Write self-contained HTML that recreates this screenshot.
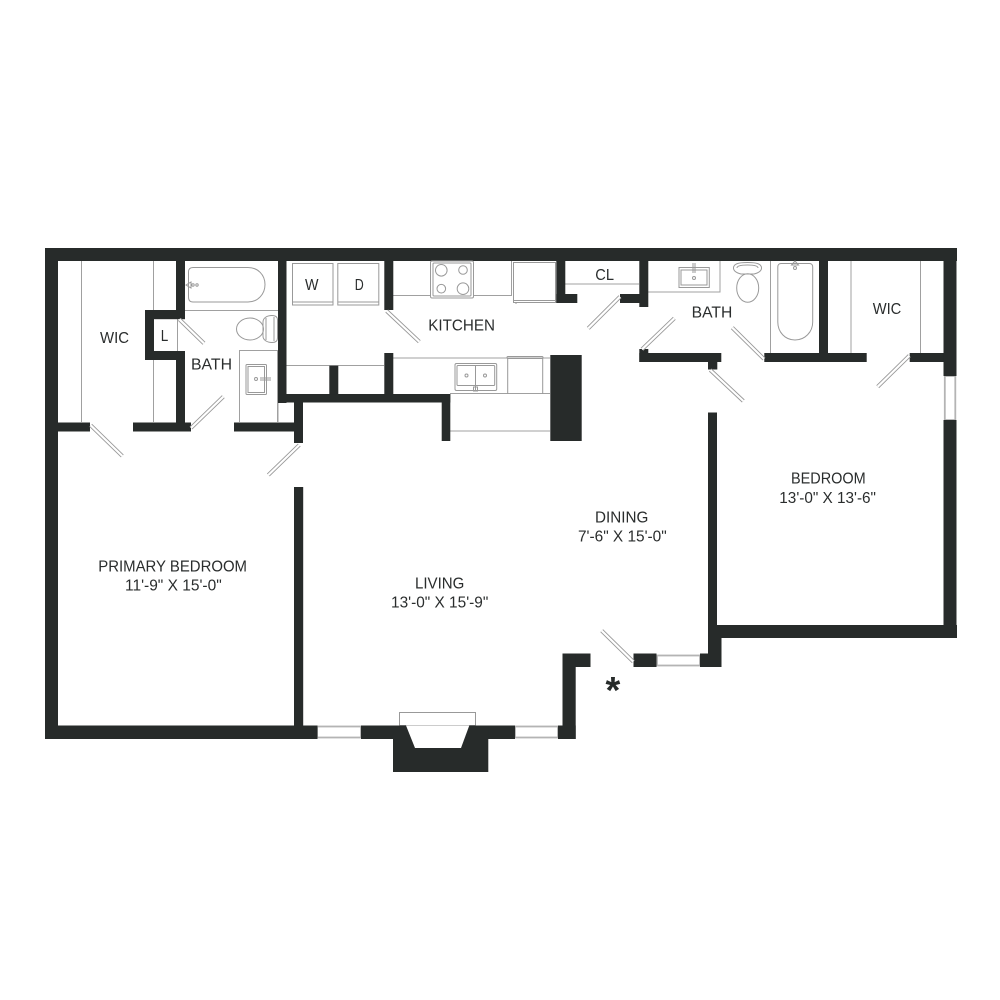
<!DOCTYPE html>
<html><head><meta charset="utf-8"><title>Floor plan</title>
<style>
html,body{margin:0;padding:0;background:#fff;width:1000px;height:1000px;overflow:hidden}
svg{display:block}
text{font-family:"Liberation Sans",sans-serif;font-size:15.4px;fill:#2a2d2d}
.w{fill:#272b2a}
.l{fill:none;stroke:#a0a0a0;stroke-width:1}
.f{fill:none;stroke:#999;stroke-width:1}
.d{stroke:#999;stroke-width:4;stroke-linecap:butt}
.di{stroke:#fff;stroke-width:2.2;stroke-linecap:butt}
.win{stroke:#b4b4b4;stroke-width:1.8;fill:#fff}
</style></head><body>
<svg width="1000" height="1000" viewBox="0 0 1000 1000" xmlns="http://www.w3.org/2000/svg">
<rect width="1000" height="1000" fill="#fff"/>

<!-- thin lines -->
<g class="l">
<path d="M81.5 261V422M153.5 261V310M153.5 360V422M177.5 319V351"/>
<path d="M185 310.5H278M239.5 422V350.5H278M277.5 350V422M278 402.5V422"/>
<path d="M286 365.5H384M393 358H550M450 393.5H550M450 431H550"/>
<path d="M393 295.5H511.5V261M565 284H639M648 292H720V261M770.5 261V353M851 261V353M920.5 261V353"/>
</g>

<!-- windows -->
<g class="win">
<rect x="317" y="726.5" width="44" height="11"/>
<rect x="515" y="726.5" width="43" height="11"/>
<rect x="657" y="655.5" width="43" height="10"/>
<rect x="944.8" y="376" width="10.5" height="44"/>
</g>
<rect x="399.5" y="712.5" width="76" height="13" fill="#fff" stroke="#999" stroke-width="1"/>

<!-- walls -->
<g class="w">
<rect x="45" y="248" width="912" height="13"/>
<rect x="45" y="248" width="13" height="491"/>
<rect x="943.5" y="248" width="13" height="128"/>
<rect x="943.5" y="420" width="13" height="218"/>
<rect x="717" y="625" width="240" height="13"/>
<rect x="708" y="412.5" width="9" height="226"/>
<rect x="708" y="638" width="13.5" height="29"/>
<rect x="700" y="653.5" width="21.5" height="13.5"/>
<rect x="633.5" y="653.5" width="23" height="13.5"/>
<rect x="562.5" y="653.5" width="28" height="13.5"/>
<rect x="562.5" y="653.5" width="13.2" height="85.5"/>
<rect x="558" y="725.5" width="17.7" height="13.5"/>
<rect x="361" y="725.5" width="154" height="13.5"/>
<rect x="45" y="725.5" width="272.5" height="13.5"/>
<rect x="294" y="487" width="9.2" height="240"/>
<rect x="393" y="725.5" width="95.3" height="46.5"/>
<polygon points="406,725.5 469.3,725.5 461,748 415,748" fill="#fff"/>

<rect x="58" y="422.5" width="32" height="9"/>
<rect x="133" y="422.5" width="58" height="9"/>
<rect x="234" y="422.5" width="60" height="9"/>
<rect x="176" y="261" width="9" height="58"/>
<rect x="145" y="310" width="40" height="9.2"/>
<rect x="145" y="310" width="9" height="50"/>
<rect x="145" y="351" width="40" height="9"/>
<rect x="176" y="351" width="9" height="80"/>
<rect x="278" y="261" width="8.5" height="142"/>
<rect x="278" y="394" width="172.3" height="8.5"/>
<rect x="294" y="394" width="9" height="49"/>
<rect x="384.3" y="261" width="9" height="49"/>
<rect x="384.3" y="353" width="9" height="42"/>
<rect x="329.3" y="365.7" width="9" height="29"/>
<rect x="441.7" y="394" width="8.6" height="47"/>
<rect x="550.3" y="355" width="31.4" height="86"/>
<rect x="556.3" y="261" width="9" height="42"/>
<rect x="556.3" y="294" width="21" height="9"/>
<rect x="639.3" y="261" width="9" height="46"/>
<rect x="620" y="294" width="28" height="9"/>
<rect x="639.3" y="349" width="9" height="13"/>
<rect x="639.3" y="353" width="82" height="9"/>
<rect x="708" y="362" width="9.3" height="7.5"/>
<rect x="764.3" y="353" width="102.4" height="9"/>
<rect x="819" y="261" width="9" height="93"/>
<rect x="909.7" y="353" width="34" height="9"/>
</g>

<!-- doors -->
<g>
<path class="d" d="M90.7 425.3L122.3 456M179.3 319.3L204 343.3M191 428L223.3 396.7M299.3 445L268.3 475M386.7 311L419.3 341.7M620 296.7L588.3 328.3M642 349.3L674.3 318.3M710.3 370L743.3 401M764 359L732.3 327.7M909.3 355.7L877.7 386.7M633.3 661.7L601.7 630.7"/>
<path class="di" d="M90.7 425.3L122.3 456M179.3 319.3L204 343.3M191 428L223.3 396.7M299.3 445L268.3 475M386.7 311L419.3 341.7M620 296.7L588.3 328.3M642 349.3L674.3 318.3M710.3 370L743.3 401M764 359L732.3 327.7M909.3 355.7L877.7 386.7M633.3 661.7L601.7 630.7"/>
</g>

<!-- fixtures: left bath -->
<g class="f">
<path d="M193 267.5H248C258 267.5 265 275 265 284.5C265 294 258 302 248 302H193C190 302 188.5 300 188.5 297V272C188.5 269 190 267.5 193 267.5Z"/>
<path d="M186 285L191 282V288Z"/><circle cx="193" cy="285" r="1.2"/><circle cx="197" cy="285" r="1.2"/>
<ellipse cx="250" cy="329" rx="13.5" ry="11"/>
<path d="M263 322C263 318 267 315.5 272 315.5C276 315.5 277.5 317 277.5 320V338C277.5 341 276 342.5 272 342.5C267 342.5 263 340 263 336Z"/>
<path d="M266 318V340M274 317V341"/>
<rect x="246" y="364.5" width="20.5" height="30" rx="1"/>
<rect x="248" y="366.5" width="16.5" height="26"/>
<circle cx="256" cy="379" r="1.5"/><path d="M260 378H271M260 380H271"/>
</g>

<!-- fixtures: laundry -->
<g class="f">
<rect x="292.5" y="263.5" width="40.5" height="41.5"/><path d="M292.5 302H333"/>
<rect x="337.8" y="263.5" width="41" height="41.5"/><path d="M337.8 302H378.8"/>
</g>

<!-- fixtures: kitchen -->
<g class="f">
<rect x="430.5" y="261" width="43" height="37" rx="1.5" fill="#fff"/>
<rect x="433" y="263" width="38" height="33" rx="1"/>
<circle cx="441.3" cy="270.3" r="5.8"/><circle cx="463" cy="270" r="4.3"/>
<circle cx="441.3" cy="288.7" r="4.3"/><circle cx="463" cy="288.7" r="5.8"/>
<rect x="513.5" y="262.5" width="42" height="40"/><path d="M513.5 300.5H555.5M516 302.5V304"/>
<rect x="455" y="363.5" width="41.7" height="27" rx="1.5"/>
<rect x="457" y="365.5" width="37.7" height="20" rx="1"/>
<path d="M475.5 365.5V385.5M475.5 380V390M473.5 387H477.5V391H473.5Z"/>
<circle cx="466.5" cy="375.5" r="1.5"/><circle cx="485" cy="375.5" r="1.5"/>
<path d="M507.7 358V394M542.7 358V394"/><rect x="507" y="356.5" width="36" height="2" rx="1"/>
</g>

<!-- fixtures: right bath -->
<g class="f">
<rect x="679" y="267.5" width="30.3" height="20"/>
<rect x="681" y="270" width="26" height="15"/>
<path d="M693 263V273M695 263V273"/><circle cx="694" cy="278" r="1.5"/>
<ellipse cx="747.7" cy="288" rx="11" ry="14.3"/>
<path d="M733.5 268C733.5 264 738 262.5 747.5 262.5C757 262.5 761.5 264 761.5 268C761.5 271 758 273 754 274H741C737 273 733.5 271 733.5 268Z"/>
<path d="M737 268C737 266 741 265 747.5 265C754 265 758 266 758 268"/>
<path d="M781 263.5H809.5C811.5 263.5 812.7 265 812.7 267V322C812.7 332 805 340 795 340C785 340 777.8 332 777.8 322V267C777.8 265 779 263.5 781 263.5Z"/>
<path d="M795 261L791.5 265H798.5Z"/><circle cx="795" cy="268" r="1.5"/>
</g>

<!-- labels -->
<text x="100" y="343" textLength="29" lengthAdjust="spacingAndGlyphs">WIC</text>
<text x="160.7" y="341" textLength="7.5" lengthAdjust="spacingAndGlyphs">L</text>
<text x="191" y="369.3" textLength="41" lengthAdjust="spacingAndGlyphs">BATH</text>
<text x="305" y="290" textLength="13.5" lengthAdjust="spacingAndGlyphs">W</text>
<text x="354.7" y="290" textLength="9" lengthAdjust="spacingAndGlyphs">D</text>
<text x="428.3" y="330.7" textLength="66.7" lengthAdjust="spacingAndGlyphs">KITCHEN</text>
<text x="595.3" y="280" textLength="18.7" lengthAdjust="spacingAndGlyphs">CL</text>
<text x="691.7" y="317.7" textLength="40.6" lengthAdjust="spacingAndGlyphs">BATH</text>
<text x="872.7" y="314" textLength="28.6" lengthAdjust="spacingAndGlyphs">WIC</text>
<text x="791" y="483.5" textLength="74.7" lengthAdjust="spacingAndGlyphs">BEDROOM</text>
<text x="779.3" y="502.8" textLength="96.7" lengthAdjust="spacingAndGlyphs">13'-0" X 13'-6"</text>
<text x="595" y="522.3" textLength="53.3" lengthAdjust="spacingAndGlyphs">DINING</text>
<text x="578" y="541.6" textLength="88.7" lengthAdjust="spacingAndGlyphs">7'-6" X 15'-0"</text>
<text x="415" y="588.3" textLength="49.3" lengthAdjust="spacingAndGlyphs">LIVING</text>
<text x="391" y="607.3" textLength="97.3" lengthAdjust="spacingAndGlyphs">13'-0" X 15'-9"</text>
<text x="98.3" y="571.7" textLength="148.7" lengthAdjust="spacingAndGlyphs">PRIMARY BEDROOM</text>
<text x="125" y="590.7" textLength="96.7" lengthAdjust="spacingAndGlyphs">11'-9" X 15'-0"</text>
<text x="605.5" y="703" style="font-size:38px;font-weight:bold;fill:#272b2a">*</text>
</svg>
</body></html>
